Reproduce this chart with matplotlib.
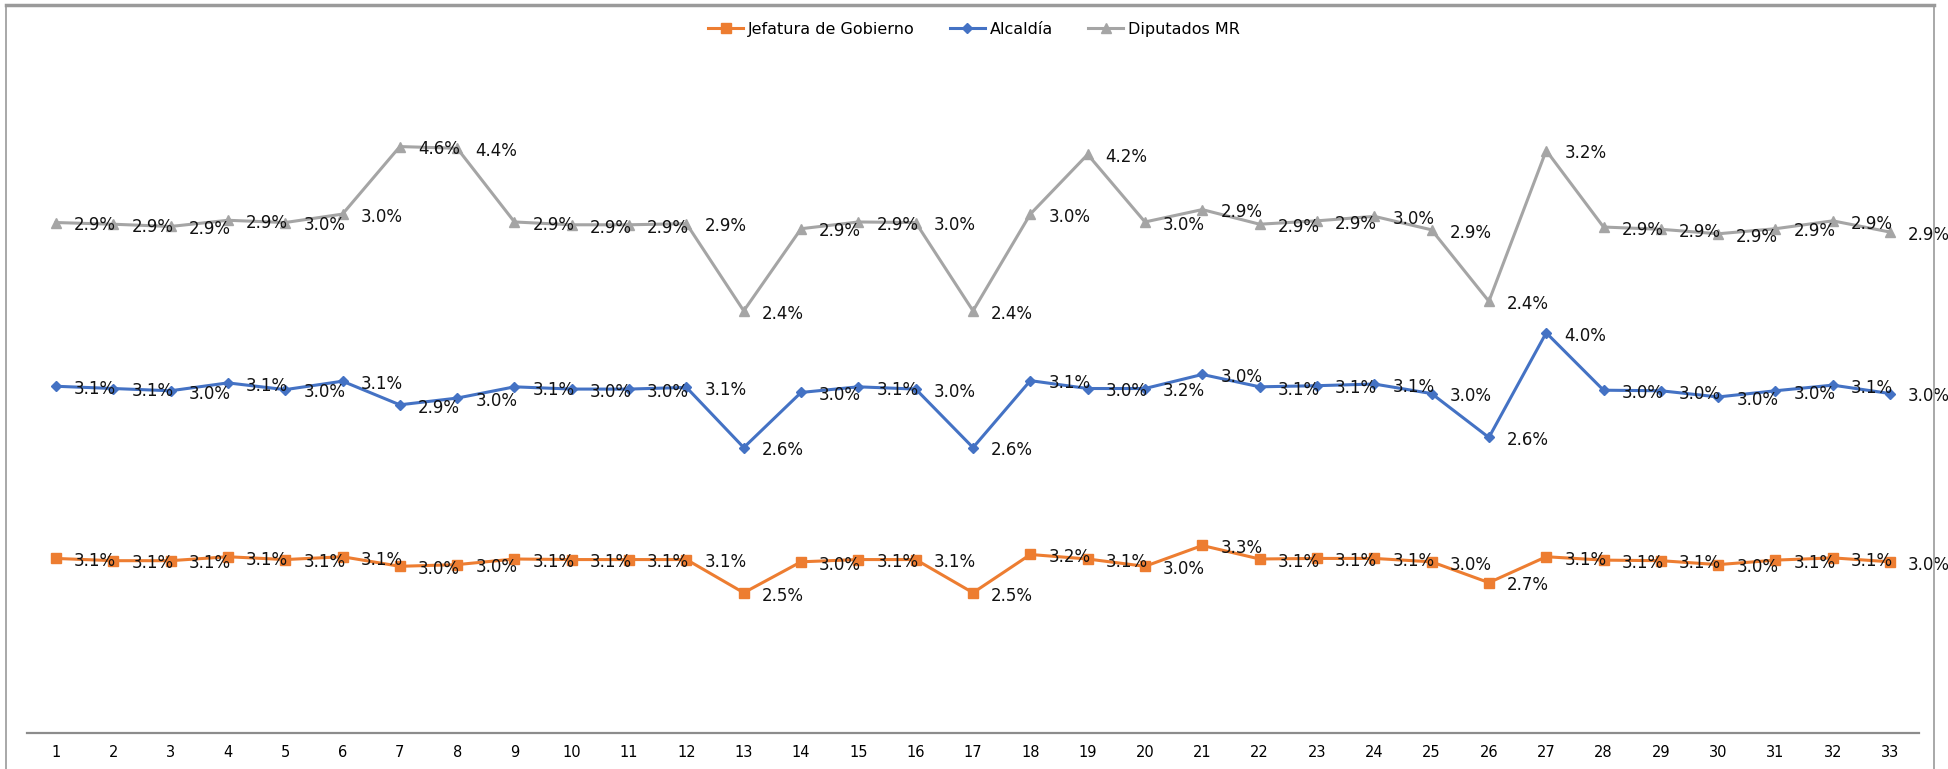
import numpy as np
import matplotlib.pyplot as plt
from matplotlib.lines import Line2D

# share (%) per district, stacked in the chart
categories = list(range(1, 34))
jefatura = [3.10, 3.06, 3.06, 3.13, 3.08, 3.13, 2.96, 2.99, 3.09, 3.08, 3.08,
            3.08, 2.49, 3.04, 3.08, 3.08, 2.49, 3.17, 3.09, 2.96, 3.33, 3.09,
            3.10, 3.10, 3.04, 2.67, 3.13, 3.07, 3.06, 2.99, 3.07, 3.11, 3.04]
alcaldia = [3.06, 3.06, 3.02, 3.09, 3.02, 3.12, 2.87, 2.96, 3.06, 3.03, 3.03,
            3.06, 2.58, 3.01, 3.07, 3.03, 2.58, 3.09, 3.03, 3.16, 3.04, 3.06,
            3.07, 3.10, 2.99, 2.58, 3.98, 3.02, 3.02, 2.98, 3.01, 3.07, 2.99]
diputados = [2.91, 2.92, 2.92, 2.89, 2.97, 2.97, 4.59, 4.44, 2.93, 2.92, 2.92,
             2.91, 2.43, 2.91, 2.93, 2.96, 2.43, 2.96, 4.16, 2.96, 2.93, 2.89,
             2.93, 2.98, 2.91, 2.42, 3.24, 2.90, 2.87, 2.90, 2.88, 2.92, 2.87]
series_names = ["Jefatura de Gobierno", "Alcaldía", "Diputados MR"]


def main():
    fig = plt.figure(figsize=(19.48, 7.69), dpi=100)
    ax = fig.add_axes([0.014, 0.047, 0.971, 0.878])

    x = np.array(categories)
    vals = [np.array(jefatura), np.array(alcaldia), np.array(diputados)]
    colors = ["#ED7D31", "#4472C4", "#A5A5A5"]
    markers = ["s", "D", "^"]
    sizes = [7, 5, 7]

    # stacked line chart
    base = np.zeros(len(x))
    for v, c, m, s, name in zip(vals, colors, markers, sizes, series_names):
        top = base + v
        ax.plot(x, top, color=c, lw=2.2, marker=m, ms=s, label=name, zorder=2)
        for xi, yi, vi in zip(x, top, v):
            ax.annotate(f"{vi:.1f}%", (xi, yi), xytext=(13, -2),
                        textcoords="offset points", ha="left", va="center",
                        fontsize=12, color="#111111", zorder=3)
        base = top

    ax.set_xlim(0.5, 33.5)
    ax.set_ylim(0, 12)
    ax.set_xticks(x)
    ax.set_xticklabels([str(c) for c in categories], fontsize=10.5)
    ax.tick_params(axis="x", length=0, pad=9)
    ax.set_yticks([])
    for sp in ["left", "right", "top"]:
        ax.spines[sp].set_visible(False)
    ax.spines["bottom"].set_color("#8C8C8C")
    ax.spines["bottom"].set_linewidth(1.6)

    fig.legend(loc="center", bbox_to_anchor=(0.5, 0.962), ncol=3,
               frameon=False, fontsize=11.5, handlelength=2.2,
               columnspacing=2.2, handletextpad=0.3)

    # chart border
    fig.add_artist(Line2D([0.003, 0.993], [0.994, 0.994], color="#9A9A9A", lw=2.5))
    fig.add_artist(Line2D([0.003, 0.003], [0.0, 0.994], color="#9A9A9A", lw=1.2))
    fig.add_artist(Line2D([0.993, 0.993], [0.0, 0.994], color="#9A9A9A", lw=1.2))

    fig.savefig("out.png", dpi=100)


if __name__ == "__main__":
    main()
